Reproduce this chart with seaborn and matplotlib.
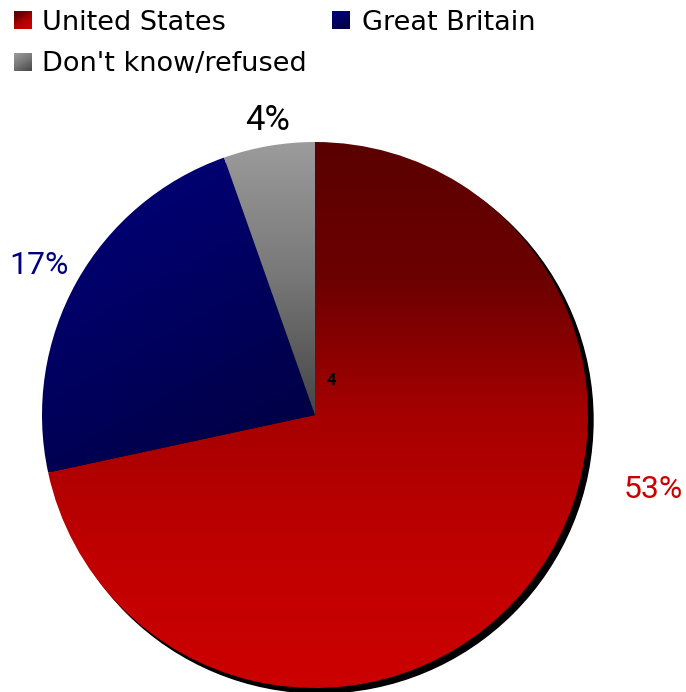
import numpy as np
import matplotlib
matplotlib.use("Agg")
import matplotlib.pyplot as plt
from matplotlib.colors import to_rgb
from matplotlib.patches import Circle, Rectangle
import seaborn as sns

# data
categories = ["United States", "Great Britain", "Don't know/refused"]
values = [53, 17, 4]
pct_labels = ["53%", "17%", "4%"]
label_colors = ["#cc0000", "#000080", "#000000"]
# gradient stops (top -> bottom) for each slice
stops = [
    ["#5a0000", "#6c0000", "#a60000", "#c00000", "#cc0000"],
    ["#000080", "#000060", "#00003c"],
    ["#9c9c9c", "#777777", "#444444"],
]

sns.set_style("white")
plt.rcParams["font.family"] = ["DejaVu Sans"]

W, H = 686, 692
fig = plt.figure(figsize=(W / 100, H / 100), dpi=100)
ax = fig.add_axes([0, 0, 1, 1])


def py(y):
    return H - y


def grad_img(cols, angle, n=200):
    # linear gradient along angle (deg, 90 = straight down in image coords)
    xs, ys = np.meshgrid(np.linspace(0, 1, n), np.linspace(0, 1, n))
    a = np.deg2rad(angle)
    t = xs * np.cos(a) + ys * np.sin(a)
    t = (t - t.min()) / (t.max() - t.min())
    cs = np.array([to_rgb(c) for c in cols])
    pos = np.linspace(0, 1, len(cols))
    return np.stack([np.interp(t, pos, cs[:, k]) for k in range(3)], axis=-1)


cx, cy, r = 315, py(415), 273

# shadow
ax.add_patch(Circle((cx + 5, cy - 5), r, color="black", zorder=0))

wedges, _ = ax.pie(values, startangle=90, counterclock=False, center=(cx, cy),
                   radius=r, wedgeprops=dict(linewidth=0))
boxes = [(cx - r - 2, cx + r + 2, 140, 690), (40, 318, 140, 475), (220, 318, 140, 418)]
angles = [90, 65, 90]
for w, cols, ang, (x0, x1, y0, y1) in zip(wedges, stops, angles, boxes):
    w.set_facecolor("none")
    im = ax.imshow(grad_img(cols, ang), extent=(x0, x1, py(y1), py(y0)),
                   origin="upper", aspect="auto", zorder=1, interpolation="bilinear")
    im.set_clip_path(w)

# legend drawn by hand with gradient squares
leg = [(14, 11, 42, 30, 0), (332, 11, 362, 30, 1), (14, 53, 42, 71, 2)]
for x, y, tx, base, i in leg:
    sq = Rectangle((x, py(y + 18)), 18, 18, facecolor="none", edgecolor="none")
    ax.add_patch(sq)
    im = ax.imshow(grad_img(stops[i], 60),
                   extent=(x, x + 18, py(y + 18), py(y)), origin="upper",
                   aspect="auto", zorder=2)
    im.set_clip_path(sq)
    ax.text(tx, py(base), categories[i], fontsize=19.5, va="baseline", ha="left",
            color="black")

# percentage labels
lab = dict(family=["Roboto", "DejaVu Sans"], ha="center", va="baseline")
ax.text(653, py(498), pct_labels[0], fontsize=23, color=label_colors[0], **lab)
ax.text(38.5, py(274), pct_labels[1], fontsize=23, color=label_colors[1], **lab)
ax.text(267.5, py(130), pct_labels[2], fontsize=25, color=label_colors[2], **lab)
ax.text(331, py(385), "4", fontsize=12, color="black", fontweight="bold", **lab)

ax.set_xlim(0, W)
ax.set_ylim(0, H)
ax.set_aspect("auto")
ax.axis("off")

fig.savefig("out.png", dpi=100)
